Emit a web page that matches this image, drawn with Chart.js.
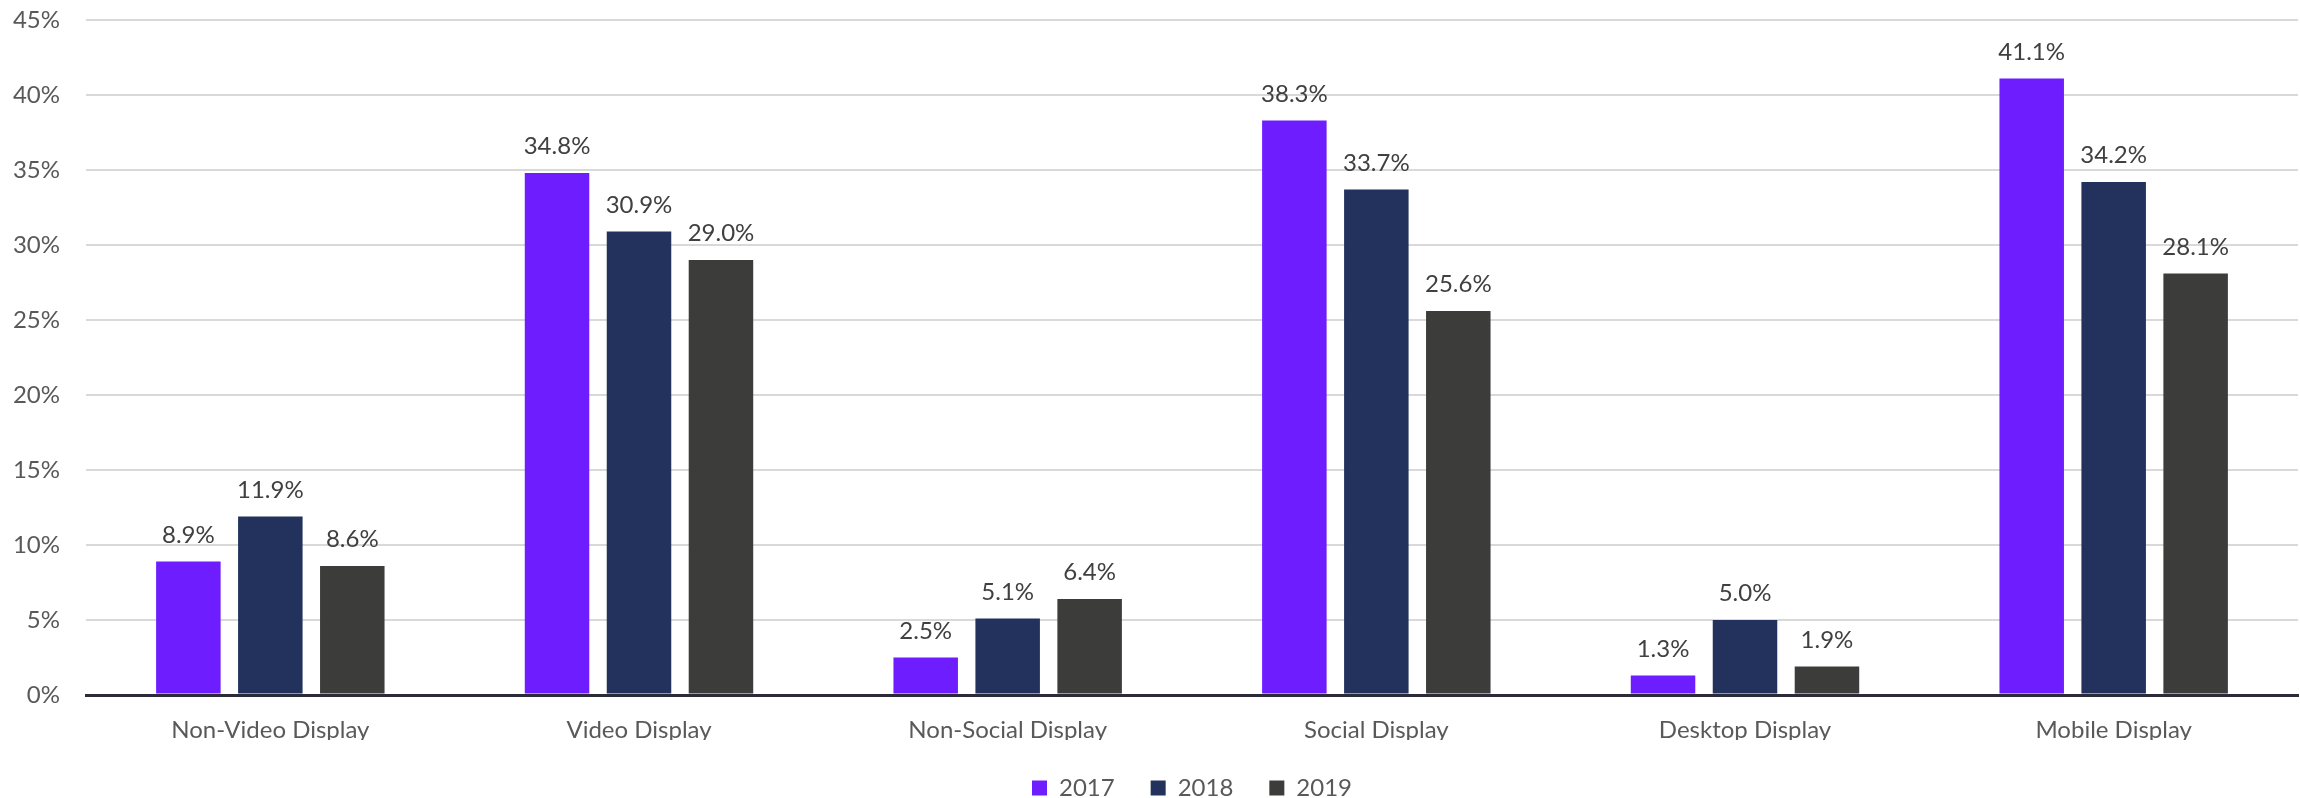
<!DOCTYPE html>
<html>
<head>
<meta charset="utf-8">
<script src="https://cdn.jsdelivr.net/npm/chart.js@4"></script>
<style>
  html, body { margin: 0; padding: 0; background: #ffffff; }
  #wrap { width: 2300px; height: 798px; }
</style>
</head>
<body>
<div id="wrap"><canvas id="chart" width="2300" height="798"></canvas></div>
<script>
// data
const categories = ['Non-Video Display', 'Video Display', 'Non-Social Display', 'Social Display', 'Desktop Display', 'Mobile Display'];
const years = ['2017', '2018', '2019'];
const values2017 = [8.9, 34.8, 2.5, 38.3, 1.3, 41.1];
const values2018 = [11.9, 30.9, 5.1, 33.7, 5.0, 34.2];
const values2019 = [8.6, 29.0, 6.4, 25.6, 1.9, 28.1];
const colors = ['#6e1dff', '#22325c', '#3c3c3b'];

const FONT = "Lato, 'Noto Sans', sans-serif";

// bar value labels
const valueLabels = {
    id: 'valueLabels',
    afterDatasetsDraw: (chart) => {
        const ctx = chart.ctx;
        ctx.save();
        ctx.fillStyle = '#404040';
        ctx.font = `24px ${FONT}`;
        ctx.textAlign = 'center';
        ctx.textBaseline = 'alphabetic';
        chart.data.datasets.forEach((dataset, di) => {
            const meta = chart.getDatasetMeta(di);
            meta.data.forEach((bar, i) => {
                ctx.fillText(dataset.data[i].toFixed(1) + '%', bar.x, bar.y - 19);
            });
        });
        ctx.restore();
    },
};

new Chart(document.getElementById('chart'), {
    type: 'bar',
    data: {
        labels: categories,
        datasets: [values2017, values2018, values2019].map((vals, i) => ({
            label: years[i],
            data: vals,
            backgroundColor: colors[i],
            borderWidth: 0,
            categoryPercentage: 0.667,
            barPercentage: 0.787,
        })),
    },
    options: {
        responsive: false,
        animation: false,
        layout: { padding: { top: 0, right: 2, left: 0, bottom: -12 } },
        plugins: {
            tooltip: { enabled: false },
            legend: {
                position: 'bottom',
                fullSize: false,
                labels: {
                    color: '#595959',
                    font: { family: FONT, size: 24 },
                    boxWidth: 15,
                    boxHeight: 15,
                    padding: 36,
                },
            },
        },
        scales: {
            x: {
                afterFit: (scale) => { scale.height = 45; },
                grid: { display: false, drawTicks: false },
                border: { display: true, color: '#2b2b3a', width: 3 },
                ticks: {
                    color: '#595959',
                    font: { family: FONT, size: 24 },
                    padding: 21,
                    maxRotation: 0,
                },
            },
            y: {
                min: 0,
                max: 45,
                afterFit: (scale) => {
                    scale.width = 86;
                    // tick padding would otherwise push the plot down
                    scale.paddingTop = 20;
                    scale.paddingBottom = 0;
                },
                grid: {
                    color: (c) => (c.tick && c.tick.value === 0 ? '#2b2b3a' : '#d9d9d9'),
                    lineWidth: (c) => (c.tick && c.tick.value === 0 ? 3 : 2),
                    drawTicks: false,
                },
                border: { display: false },
                ticks: {
                    stepSize: 5,
                    color: '#595959',
                    font: { family: FONT, size: 24 },
                    padding: 26,
                    callback: (v) => v + '%',
                },
            },
        },
    },
    plugins: [valueLabels],
});
</script>
</body>
</html>
